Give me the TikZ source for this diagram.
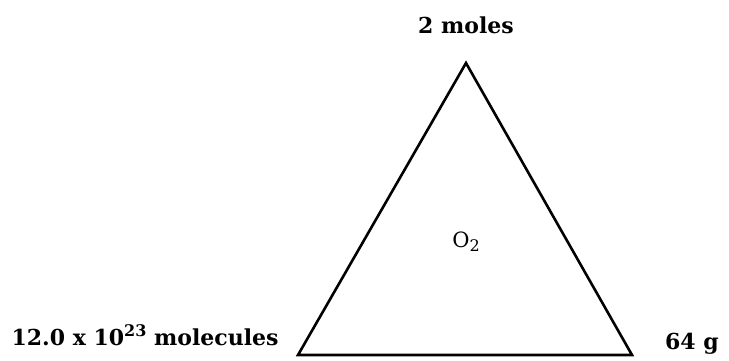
\documentclass[tikz,border=0pt]{standalone}
\usepackage{fontspec}
\setmainfont{DejaVu Serif}
\begin{document}
\begin{tikzpicture}[x=1pt,y=1pt,
  lbl/.style={font=\bfseries\fontsize{22}{26}\selectfont, inner sep=0pt, anchor=base},
  side/.style={line width=2.6pt, line join=miter}]
\useasboundingbox (0,0) rectangle (729,360);
\coordinate (top) at (466,297);
\coordinate (bl) at (298,5);
\coordinate (br) at (632,5);
\draw[side] (top) -- (bl) -- (br) -- cycle;
\node[lbl] (moles) at (466,327) {2 moles};
\node[lbl] (molec) at (145,15) {12.0 x 10\raisebox{9pt}{\fontsize{16}{18}\selectfont 23} molecules};
\node[lbl] (mass) at (692,11) {64 g};
\node[font=\fontsize{21}{24}\selectfont, inner sep=0pt, anchor=base] (o2) at (466,113) {O\raisebox{-4pt}{\fontsize{16}{18}\selectfont 2}};
\end{tikzpicture}
\end{document}
